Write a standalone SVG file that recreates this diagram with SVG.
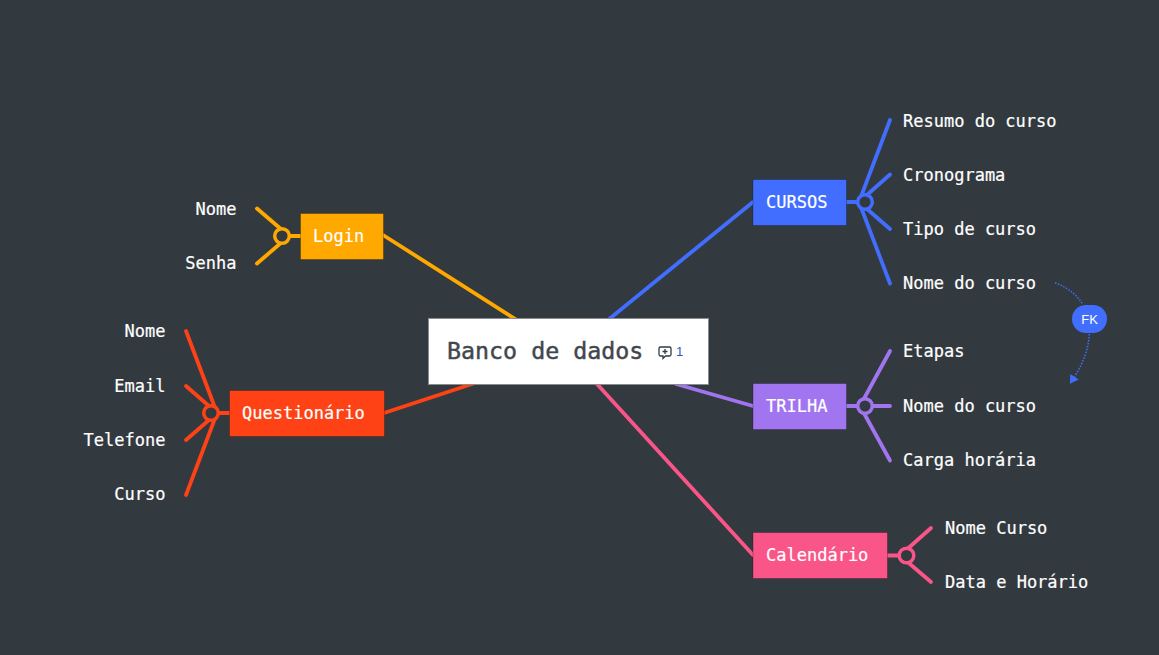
<svg xmlns="http://www.w3.org/2000/svg" width="1159" height="655" viewBox="0 0 1159 655">
<style>
text{font-family:"DejaVu Sans Mono","Liberation Mono",monospace}
.l,.t{font-size:17px;fill:#fff;stroke:#fff;stroke-width:.2}
.e{text-anchor:end}
.c{fill:none;stroke-width:3.800;stroke-linecap:round}
.o{stroke:#ffa800}.r{stroke:#ff4216}.b{stroke:#416eff}.p{stroke:#a275f0}.k{stroke:#fa5588}
.h{fill:#333a3f;stroke-width:3.500}
.n{stroke:#000;stroke-opacity:.25;stroke-width:1}
</style>
<defs><marker id="ah" markerWidth="11" markerHeight="11" refX="0" refY="5" orient="auto" markerUnits="userSpaceOnUse"><path d="M0 0L8.500 5L0 10Z" fill="#416eff"/></marker></defs>
<rect width="1159" height="655" fill="#333a3f"/>
<g id="connectors">
<path class="c o" d="M383 235L520 322"/>
<path class="c r" d="M384 413L475 383"/>
<path class="c b" d="M753 202L608 320"/>
<path class="c p" d="M753 406L676 384"/>
<path class="c k" d="M753 555L597 384"/>
<path class="c o" d="M301 236H282M289 236L257 208.500M289 236L257 263.500"/>
<path class="c r" d="M230 413H211M217 413L186 331M217 413L186 386M217 413L186 440M217 413L186 495"/>
<path class="c b" d="M846 202H865M859 202L890 120M859 202L890 174.500M859 202L890 229M859 202L890 283.500"/>
<path class="c p" d="M846 406H865M860 406L890 351M865 406H890M860 406L890 460.500"/>
<path class="c k" d="M887 555.500H906M900 555.500L931 528M900 555.500L931 582"/>
<path d="M1055 282.700Q1074 290 1082.700 304.300" fill="none" stroke="#416eff" stroke-width="1.500" stroke-dasharray="1.500 1.500"/>
<path d="M1089.300 334Q1088.300 355 1074.500 376.700" fill="none" stroke="#416eff" stroke-width="1.500" stroke-dasharray="1.500 1.500" marker-end="url(#ah)"/>
</g>
<g id="hubs">
<circle class="h o" cx="282" cy="236" r="7.300"/>
<circle class="h r" cx="211" cy="413" r="7.300"/>
<circle class="h b" cx="865" cy="202" r="7.300"/>
<circle class="h p" cx="865" cy="406" r="7.300"/>
<circle class="h k" cx="906.500" cy="555.500" r="7.300"/>
</g>
<g id="root">
<rect x="428.500" y="318.500" width="280" height="66" fill="#fff" stroke="#8a8d90"/>
<text x="447" y="359" font-size="23.300" fill="#42474d" stroke="#42474d" stroke-width=".45">Banco de dados</text>
<path d="M659 348.500a1.500 1.500 0 0 1 1.500-1.500h9a1.500 1.500 0 0 1 1.500 1.500v6a1.500 1.500 0 0 1-1.500 1.500h-4l-2.500 2.500v-2.500h-2.500a1.500 1.500 0 0 1-1.500-1.500zM665 349v5M662.500 351.500h5" fill="none" stroke="#333a3f" stroke-width="1.300"/>
<text x="676" y="356" font-size="13" fill="#2457bd" style="font-family:'Liberation Sans',sans-serif">1</text>
</g>
<g id="login"><rect class="n" x="300.500" y="213.500" width="83" height="46" fill="#ffa800"/><text class="t" x="313" y="241.500">Login</text></g>
<g id="questionario"><rect class="n" x="229.500" y="390.500" width="155" height="46" fill="#ff4216"/><text class="t" x="242" y="418.500">Questionário</text></g>
<g id="cursos"><rect class="n" x="753" y="179.500" width="93.500" height="46" fill="#416eff"/><text class="t" x="766" y="207.500">CURSOS</text></g>
<g id="trilha"><rect class="n" x="753" y="383.500" width="93.500" height="46" fill="#a275f0"/><text class="t" x="766" y="411.500">TRILHA</text></g>
<g id="calendario"><rect class="n" x="753" y="532.500" width="134.500" height="46" fill="#fa5588"/><text class="t" x="766" y="560.500">Calendário</text></g>
<g id="leaf-login-nome"><text class="l e" x="236.500" y="214.500">Nome</text></g>
<g id="leaf-login-senha"><text class="l e" x="236.500" y="268.500">Senha</text></g>
<g id="leaf-q-nome"><text class="l e" x="165.500" y="336.500">Nome</text></g>
<g id="leaf-q-email"><text class="l e" x="165.500" y="391.500">Email</text></g>
<g id="leaf-q-telefone"><text class="l e" x="165.500" y="445.500">Telefone</text></g>
<g id="leaf-q-curso"><text class="l e" x="165.500" y="499.500">Curso</text></g>
<g id="leaf-c-resumo"><text class="l" x="903" y="126.500">Resumo do curso</text></g>
<g id="leaf-c-crono"><text class="l" x="903" y="180.500">Cronograma</text></g>
<g id="leaf-c-tipo"><text class="l" x="903" y="234.500">Tipo de curso</text></g>
<g id="leaf-c-nome"><text class="l" x="903" y="288.500">Nome do curso</text></g>
<g id="leaf-t-etapas"><text class="l" x="903" y="356.500">Etapas</text></g>
<g id="leaf-t-nome"><text class="l" x="903" y="411.500">Nome do curso</text></g>
<g id="leaf-t-carga"><text class="l" x="903" y="465.500">Carga horária</text></g>
<g id="leaf-k-nome"><text class="l" x="945" y="533.500">Nome Curso</text></g>
<g id="leaf-k-data"><text class="l" x="945" y="587.500">Data e Horário</text></g>
<g id="fk"><rect x="1072" y="305" width="35" height="28" rx="14" fill="#416eff"/><text x="1089.500" y="324" font-size="13" fill="#fff" text-anchor="middle" style="font-family:'Liberation Sans',sans-serif">FK</text></g>
</svg>
